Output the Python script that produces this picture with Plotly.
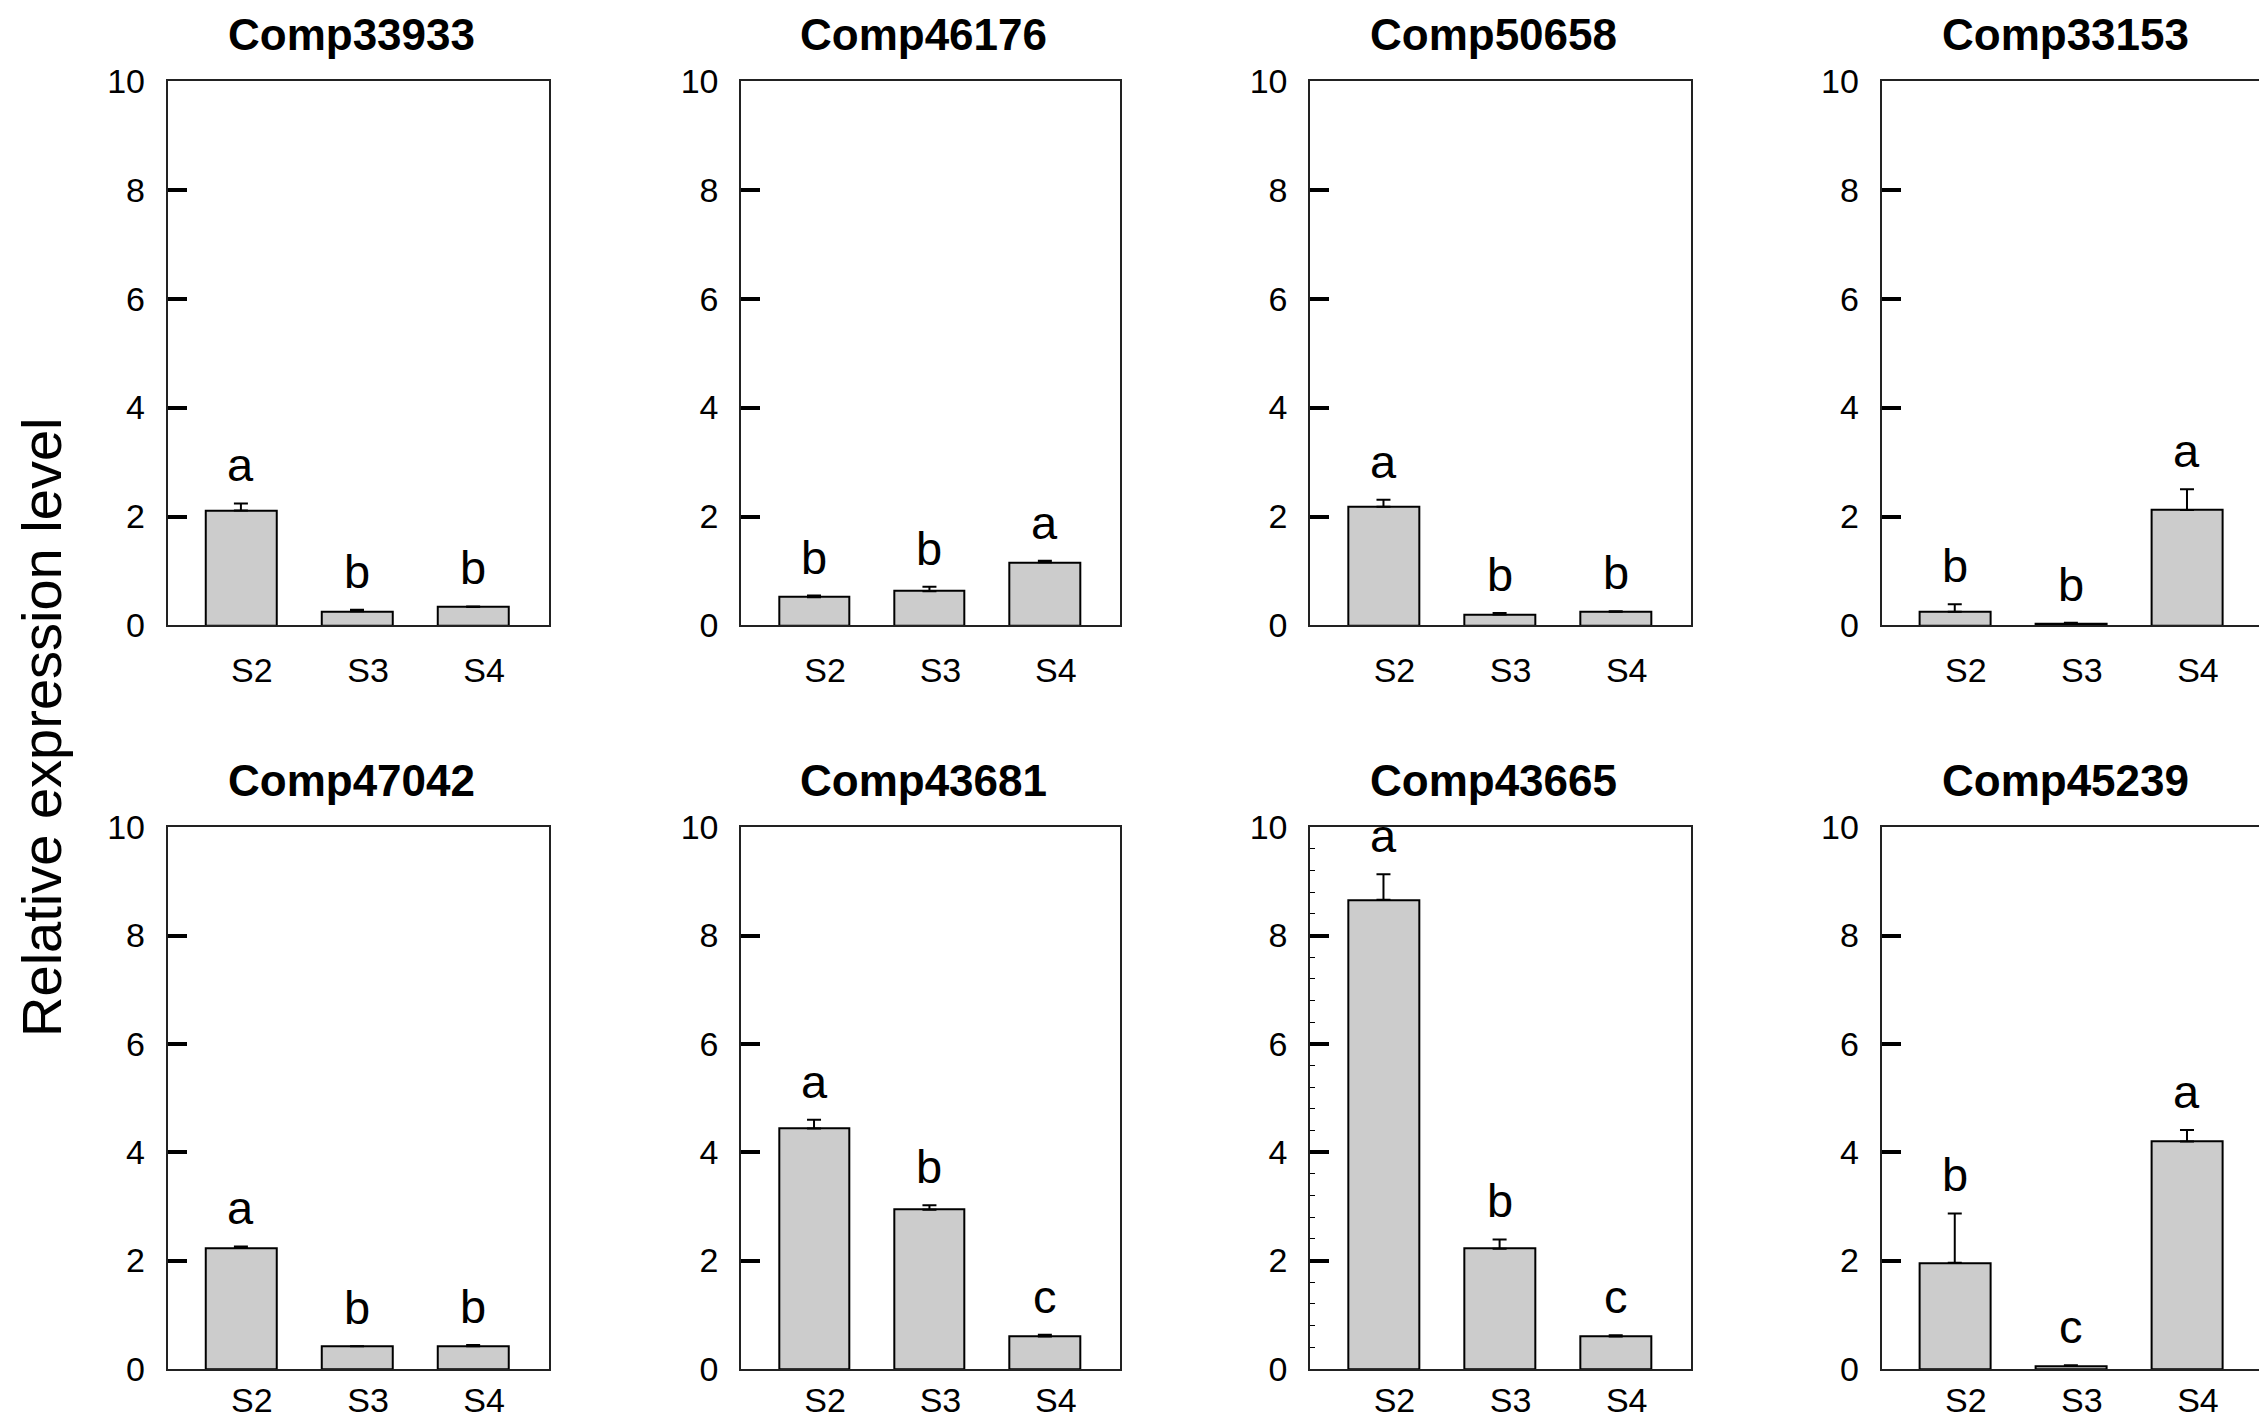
import plotly.graph_objects as go
from plotly.subplots import make_subplots

# values
genes = ["Comp33933", "Comp46176", "Comp50658", "Comp33153",
         "Comp47042", "Comp43681", "Comp43665", "Comp45239"]
stages = ["S2", "S3", "S4"]
means = [
    [2.11, 0.26, 0.34],
    [0.52, 0.63, 1.16],
    [2.18, 0.20, 0.25],
    [0.25, 0.04, 2.12],
    [2.23, 0.42, 0.42],
    [4.44, 2.94, 0.60],
    [8.66, 2.22, 0.60],
    [1.96, 0.06, 4.20],
]
errors = [
    [0.13, 0.03, 0.01],
    [0.03, 0.08, 0.03],
    [0.13, 0.03, 0.01],
    [0.14, 0.01, 0.38],
    [0.03, 0.00, 0.02],
    [0.16, 0.08, 0.03],
    [0.47, 0.17, 0.02],
    [0.91, 0.01, 0.21],
]
letters = [
    ["a", "b", "b"],
    ["b", "b", "a"],
    ["a", "b", "b"],
    ["b", "b", "a"],
    ["a", "b", "b"],
    ["a", "b", "c"],
    ["a", "b", "c"],
    ["b", "c", "a"],
]
yticks = [0, 2, 4, 6, 8, 10]

FONT = "Arial, Liberation Sans, sans-serif"
W, H = 2267, 1425
# page body adds an 8px margin, pull everything back by that much
dx = 8 / W
x_domains = [[0.074 - dx, 0.242 - dx], [0.327 - dx, 0.494 - dx],
             [0.578 - dx, 0.746 - dx], [0.830 - dx, 0.998 - dx]]
y_domains = [[0.5685, 0.9613], [0.0325, 0.4231]]

fig = make_subplots(rows=2, cols=4)
xpos = list(range(len(stages)))

annotations = []
for i, gene in enumerate(genes):
    row, col = i // 4 + 1, i % 4 + 1
    fig.add_trace(go.Bar(
        x=xpos, y=means[i], width=0.61,
        marker=dict(color="#cccccc", line=dict(color="black", width=2)),
        error_y=dict(type="data", array=errors[i], arrayminus=[0] * 3,
                     symmetric=False, color="black", thickness=2, width=7),
        showlegend=False,
    ), row=row, col=col)

    n = "" if i == 0 else str(i + 1)
    fig.layout["xaxis" + n].update(
        domain=x_domains[col - 1], range=[-0.63, 2.65],
        tickvals=xpos, ticktext=stages, ticks="",
        showline=True, mirror=True, linecolor="#222", linewidth=2,
        showgrid=False, zeroline=False,
        tickfont=dict(family=FONT, size=34, color="black"),
        ticklabelstandoff=14 if row == 1 else 0, ticklabelshift=11,
    )
    yax = dict(
        domain=y_domains[row - 1], range=[0, 10],
        tickvals=yticks, ticks="inside", ticklen=19, tickwidth=4, tickcolor="black",
        showline=True, mirror=True, linecolor="#222", linewidth=2,
        showgrid=False, zeroline=False,
        tickfont=dict(family=FONT, size=34, color="black"),
        ticklabelstandoff=14,
    )
    if gene == "Comp43665":
        yax["minor"] = dict(dtick=0.4, ticks="inside", ticklen=5,
                            tickwidth=1, tickcolor="black")
    fig.layout["yaxis" + n].update(**yax)

    # significance letters above each bar
    for j in xpos:
        annotations.append(dict(
            x=j, y=means[i][j] + errors[i][j], xref="x" + n, yref="y" + n,
            text=letters[i][j], showarrow=False, yanchor="bottom", yshift=10,
            font=dict(family=FONT, size=47, color="black"),
        ))
    # panel title
    xd = x_domains[col - 1]
    annotations.append(dict(
        x=(xd[0] + xd[1]) / 2 - 0.003, y=y_domains[row - 1][1], xref="paper", yref="paper",
        text="<b>" + gene + "</b>", showarrow=False, xanchor="center",
        yanchor="bottom", yshift=20,
        font=dict(family=FONT, size=44, color="black"),
    ))

annotations.append(dict(
    x=0, y=0.495, xref="paper", yref="paper", text="Relative expression level",
    textangle=-90, showarrow=False, xanchor="left", yanchor="middle",
    font=dict(family=FONT, size=56, color="black"),
))

fig.update_layout(
    width=W, height=H,
    margin=dict(l=0, r=0, t=0, b=0),
    paper_bgcolor="white", plot_bgcolor="white",
    annotations=annotations,
    bargap=0,
)

fig.write_html("out.html")
